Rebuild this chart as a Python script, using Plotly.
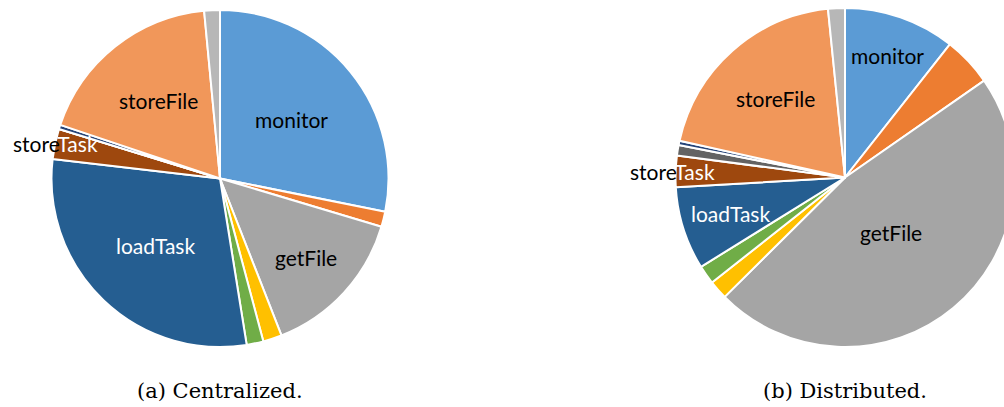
import math
import plotly.graph_objects as go

# ---- data ----
categories = ["monitor", "other-1", "getFile", "other-2", "other-3", "loadTask",
              "storeTask", "other-4", "other-5", "storeFile", "other-6"]
centralized = [28.1, 1.45, 14.4, 1.8, 1.6, 29.3, 2.9, 0.0, 0.4, 18.3, 1.5]
distributed = [10.6, 4.7, 47.2, 1.8, 1.8, 7.9, 3.0, 1.0, 0.4, 19.9, 1.6]
captions = ["(a) Centralized.", "(b) Distributed."]
labeled = ["monitor", "getFile", "loadTask", "storeTask", "storeFile"]

# ---- style ----
colors = ["#5B9BD5", "#ED7D31", "#A5A5A5", "#FFC000", "#70AD47", "#255E91",
          "#9E480E", "#636363", "#264478", "#F1975A", "#B7B7B7"]
W, H = 1024, 407
pies = [(220, 178.5, 168.5), (845, 177.5, 169.5)]
label_frac = [
    {"monitor": 0.55, "getFile": 0.69, "loadTask": 0.55, "storeTask": 1.0, "storeFile": 0.59},
    {"monitor": 0.76, "getFile": 0.42, "loadTask": 0.71, "storeTask": 1.02, "storeFile": 0.62},
]
label_color = {"monitor": "black", "getFile": "black", "loadTask": "white", "storeFile": "black"}
LABEL_FONT = "Lato"

fig = go.Figure()
annotations = []
for k, vals in enumerate([centralized, distributed]):
    cx, cy, R = pies[k]
    fig.add_trace(go.Pie(
        labels=categories, values=vals, sort=False, direction="clockwise", rotation=0,
        marker=dict(colors=colors, line=dict(color="white", width=2)),
        textinfo="none", showlegend=False, hole=0,
        domain=dict(x=[(cx - R) / W, (cx + R) / W], y=[1 - (cy + R) / H, 1 - (cy - R) / H]),
    ))
    total = sum(vals)
    cum = 0.0
    for name, v in zip(categories, vals):
        mid = (cum + v / 2) / total * 2 * math.pi
        cum += v
        if name not in labeled:
            continue
        f = label_frac[k][name]
        px = cx + f * R * math.sin(mid)
        py = cy - f * R * math.cos(mid)
        if name == "storeTask":
            txt = "<span style='color:black'>store</span><span style='color:white'>Task</span>"
            col = "black"
        else:
            txt = name
            col = label_color[name]
        annotations.append(dict(x=px / W, y=1 - py / H, xref="paper", yref="paper",
                                text=txt, showarrow=False, xanchor="center", yanchor="middle",
                                font=dict(family=LABEL_FONT, size=21, color=col)))
    annotations.append(dict(x=cx / W, y=1 - 391 / H, xref="paper", yref="paper",
                            text=captions[k], showarrow=False, xanchor="center", yanchor="middle",
                            font=dict(family="DejaVu Serif", size=21, color="black")))

fig.update_layout(width=W, height=H, margin=dict(l=0, r=0, t=0, b=0),
                  paper_bgcolor="white", plot_bgcolor="white", annotations=annotations)

fig.write_html("out.html", config={"displayModeBar": False}, post_script=(
    "document.documentElement.style.overflow='hidden';"
    "document.body.style.overflow='hidden';document.body.style.margin='0';"))
